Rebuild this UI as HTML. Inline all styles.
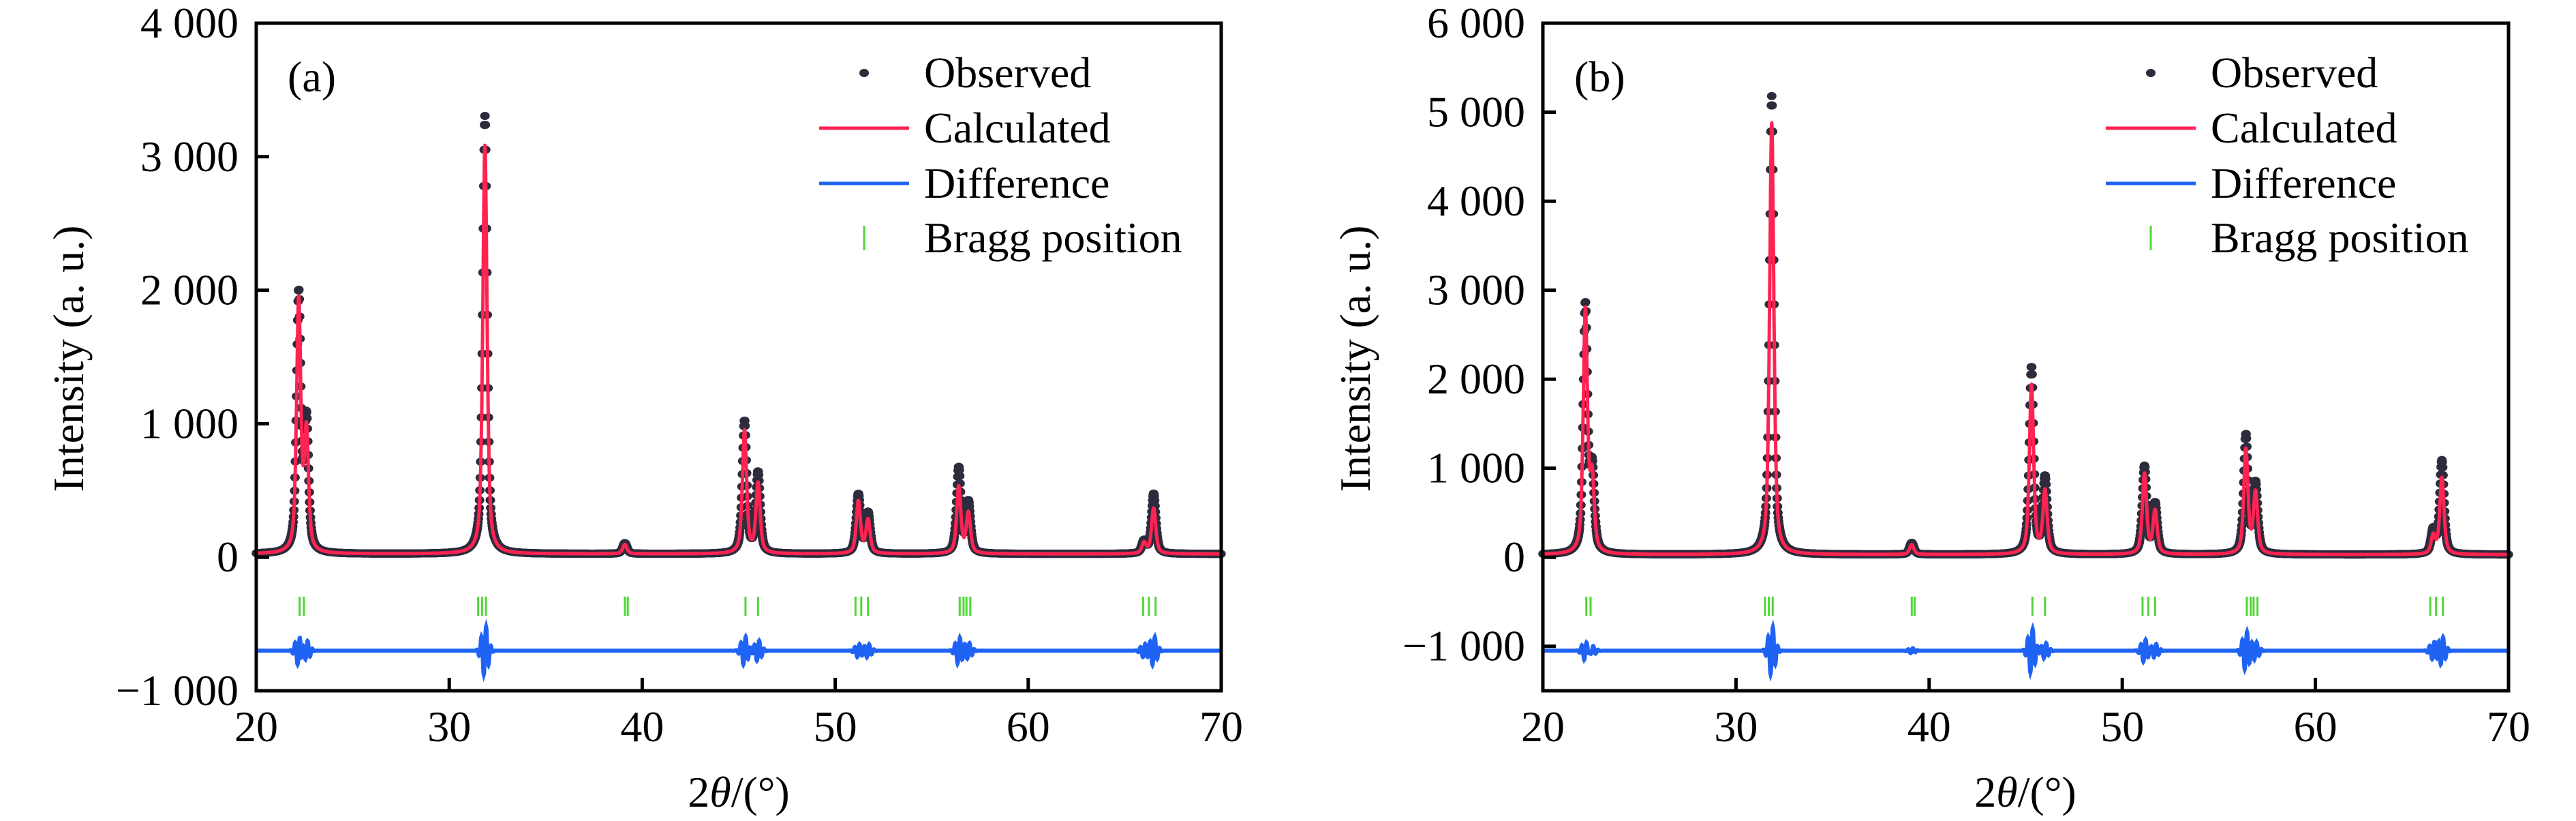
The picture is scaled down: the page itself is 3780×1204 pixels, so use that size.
<!DOCTYPE html>
<html><head><meta charset="utf-8">
<style>
html,body{margin:0;padding:0;background:#fff;}
svg{display:block;}
svg text{font-family:"Liberation Serif","Times New Roman",serif;fill:#000;}
</style></head>
<body>
<svg id="fig" width="3780" height="1204" viewBox="0 0 3780 1204" xmlns="http://www.w3.org/2000/svg" font-family="Liberation Serif, Times New Roman, serif"></svg>
<script>
// ---------- shared data ----------
const xTicks = [20, 30, 40, 50, 60, 70];
const braggPos = [22.25, 22.47, 31.5, 31.7, 31.9, 39.1, 39.25, 45.35, 46.0, 51.05, 51.35, 51.7, 56.45, 56.65, 56.8, 57.0, 65.95, 66.25, 66.6];
// ---------- panel (a) data ----------
const aYTicks = [-1000, 0, 1000, 2000, 3000, 4000];
const aYTickLabels = ["\u22121 000", "0", "1 000", "2 000", "3 000", "4 000"];
const aPeakPos = [22.2, 22.6, 31.85, 39.1, 45.3, 46.0, 51.2, 51.7, 56.4, 56.9, 66.0, 66.5];
const aCalcHeights = [1880, 880, 3060, 70, 920, 520, 390, 250, 500, 300, 80, 340];
const aObsHeights = [1930, 960, 3280, 80, 990, 600, 440, 300, 640, 380, 90, 450];
const aBackground = 25;
const aDiffBase = -700;
const aDiffPos = [22.2, 22.6, 31.85, 45.3, 46.0, 51.2, 51.7, 56.4, 56.9, 66.0, 66.5];
const aDiffAmp = [110, 80, 190, 110, 80, 50, 50, 100, 60, 50, 110];
// ---------- panel (b) data ----------
const bYTicks = [-1000, 0, 1000, 2000, 3000, 4000, 5000, 6000];
const bYTickLabels = ["\u22121 000", "0", "1 000", "2 000", "3 000", "4 000", "5 000", "6 000"];
const bPeakPos = [22.2, 22.55, 31.85, 39.1, 45.3, 46.0, 51.15, 51.7, 56.4, 56.9, 66.1, 66.55];
const bCalcHeights = [2720, 800, 4850, 110, 1900, 700, 900, 480, 1170, 680, 200, 860];
const bObsHeights = [2780, 880, 5150, 130, 2100, 850, 980, 560, 1330, 780, 260, 1050];
const bBackground = 30;
const bDiffBase = -1050;
const bDiffPos = [22.2, 22.55, 31.85, 39.1, 45.3, 46.0, 51.15, 51.7, 56.4, 56.9, 66.1, 66.55];
const bDiffAmp = [110, 60, 280, 30, 260, 90, 130, 80, 220, 100, 100, 160];

const NS = "http://www.w3.org/2000/svg";
const svg = document.getElementById('fig');
const FONT = '"Liberation Serif", "Times New Roman", serif';
function mk(tag, attrs, parent){
  const e = document.createElementNS(NS, tag);
  for (const k in attrs) e.setAttribute(k, attrs[k]);
  if (tag === 'text') e.style.fontFamily = FONT;
  (parent || svg).appendChild(e);
  return e;
}
function profile(x, pos, h, w){
  let s = 0;
  for (let i = 0; i < pos.length; i++){
    const d = (x - pos[i]) / w;
    s += h[i] * (0.6 / (1 + 4 * d * d) + 0.4 * Math.exp(-2.77 * d * d));
  }
  return s;
}
function diffProfile(x, pos, amp){
  let s = 0;
  for (let i = 0; i < pos.length; i++){
    const d = (x - pos[i]) / 0.12;
    s += amp[i] * Math.sin(d * 3.0) * Math.exp(-d * d / 4);
  }
  return s;
}

function drawPanel(cfg){
  const L = cfg.left, R = cfg.right, T = 34, B = 1013;
  const g = mk('g', {});
  
  
  const xs = v => L + (v - 20) / 50 * (R - L);
  const ys = v => B - (v - cfg.ymin) / (cfg.ymax - cfg.ymin) * (B - T);
  const W = 0.26;

  // observed dots
  const obsG = mk('g', {fill: '#2d2c3c'}, g);
  
  
  for (let x = 20.01; x < 70; x += 0.02){
    const v = cfg.bg + profile(x, cfg.peaks, cfg.obs, W);
    mk('ellipse', {cx: xs(x).toFixed(1), cy: ys(v).toFixed(1), rx: 7, ry: 6}, obsG);
  }
  // calculated line
  let d = '';
  for (let x = 20; x <= 70.0001; x += 0.01){
    const v = cfg.bg + profile(x, cfg.peaks, cfg.calc, W);
    d += (d ? 'L' : 'M') + xs(x).toFixed(1) + ' ' + ys(v).toFixed(1);
  }
  const calc = mk('path', {d: d, fill: 'none', stroke: '#ff2352', 'stroke-width': 5, 'stroke-linejoin': 'round'}, g);
  
  
  // bragg ticks
  const bg = mk('g', {stroke: '#4fd636', 'stroke-width': 3}, g);
  
  
  braggPos.forEach(p => {
    mk('line', {x1: xs(p), x2: xs(p), y1: 875, y2: 903}, bg);
  });
  // difference line
  let dd = '';
  for (let x = 20; x <= 70.0001; x += 0.01){
    const v = cfg.diffBase + diffProfile(x, cfg.dpos, cfg.damp);
    dd += (dd ? 'L' : 'M') + xs(x).toFixed(1) + ' ' + ys(v).toFixed(1);
  }
  const diff = mk('path', {d: dd, fill: 'none', stroke: '#1f63f5', 'stroke-width': 6}, g);
  
  

  // frame
  const fr = mk('rect', {x: L, y: T, width: R - L, height: B - T, fill: 'none', stroke: '#000', 'stroke-width': 5}, g);
  
  
  // x ticks
  xTicks.forEach(t => {
    const X = xs(t);
    const tk = mk('line', {x1: X, x2: X, y1: B, y2: B - 19, stroke: '#000', 'stroke-width': 5}, g);
    
    
    const tl = mk('text', {x: X, y: 1087, 'font-size': 64, 'text-anchor': 'middle'}, g);
    tl.textContent = t;
    
    
  });
  // y ticks
  cfg.yticks.forEach((t, i) => {
    const Y = ys(t);
    const tk = mk('line', {x1: L, x2: L + 19, y1: Y, y2: Y, stroke: '#000', 'stroke-width': 5}, g);
    
    
    const tl = mk('text', {x: L - 26, y: Y + 21, 'font-size': 64, 'text-anchor': 'end'}, g);
    tl.textContent = cfg.ylabels[i];
    
    
  });
  // titles
  const xt = mk('text', {x: L + 708, y: 1183, 'font-size': 64, 'text-anchor': 'middle'}, g);
  xt.innerHTML = '2<tspan font-style="italic">θ</tspan>/(°)';
  
  
  const yt = mk('text', {x: 0, y: 0, 'font-size': 64, 'text-anchor': 'middle', transform: `translate(${L - 254},526) rotate(-90)`}, g);
  yt.textContent = 'Intensity (a. u.)';
  
  
  const pl = mk('text', {x: L + 46, y: 134, 'font-size': 64}, g);
  pl.textContent = cfg.label;
  
  

  // legend
  const lg = mk('g', {}, g);
  
  
  const lx = L + 892, tx = L + 980;
  const rows = [107, 188, 269, 349];
  const names = ['Observed', 'Calculated', 'Difference', 'Bragg position'];
  mk('ellipse', {cx: lx, cy: rows[0], rx: 7, ry: 6, fill: '#2d2c3c'}, lg);
  mk('line', {x1: lx - 66, x2: lx + 66, y1: rows[1], y2: rows[1], stroke: '#ff2352', 'stroke-width': 5}, lg);
  mk('line', {x1: lx - 66, x2: lx + 66, y1: rows[2], y2: rows[2], stroke: '#1f63f5', 'stroke-width': 5}, lg);
  mk('line', {x1: lx, x2: lx, y1: rows[3] - 18, y2: rows[3] + 18, stroke: '#4fd636', 'stroke-width': 3}, lg);
  names.forEach((n, i) => {
    const t = mk('text', {x: tx, y: rows[i] + 21, 'font-size': 64}, lg);
    t.textContent = n;
    
    
  });
}

drawPanel({name: 'panel-a', label: '(a)', left: 376, right: 1792, ymin: -1000, ymax: 4000,
  yticks: aYTicks, ylabels: aYTickLabels, peaks: aPeakPos, calc: aCalcHeights, obs: aObsHeights,
  bg: aBackground, diffBase: aDiffBase, dpos: aDiffPos, damp: aDiffAmp});
drawPanel({name: 'panel-b', label: '(b)', left: 2264, right: 3681, ymin: -1500, ymax: 6000,
  yticks: bYTicks, ylabels: bYTickLabels, peaks: bPeakPos, calc: bCalcHeights, obs: bObsHeights,
  bg: bBackground, diffBase: bDiffBase, dpos: bDiffPos, damp: bDiffAmp});
</script>
</body></html>
